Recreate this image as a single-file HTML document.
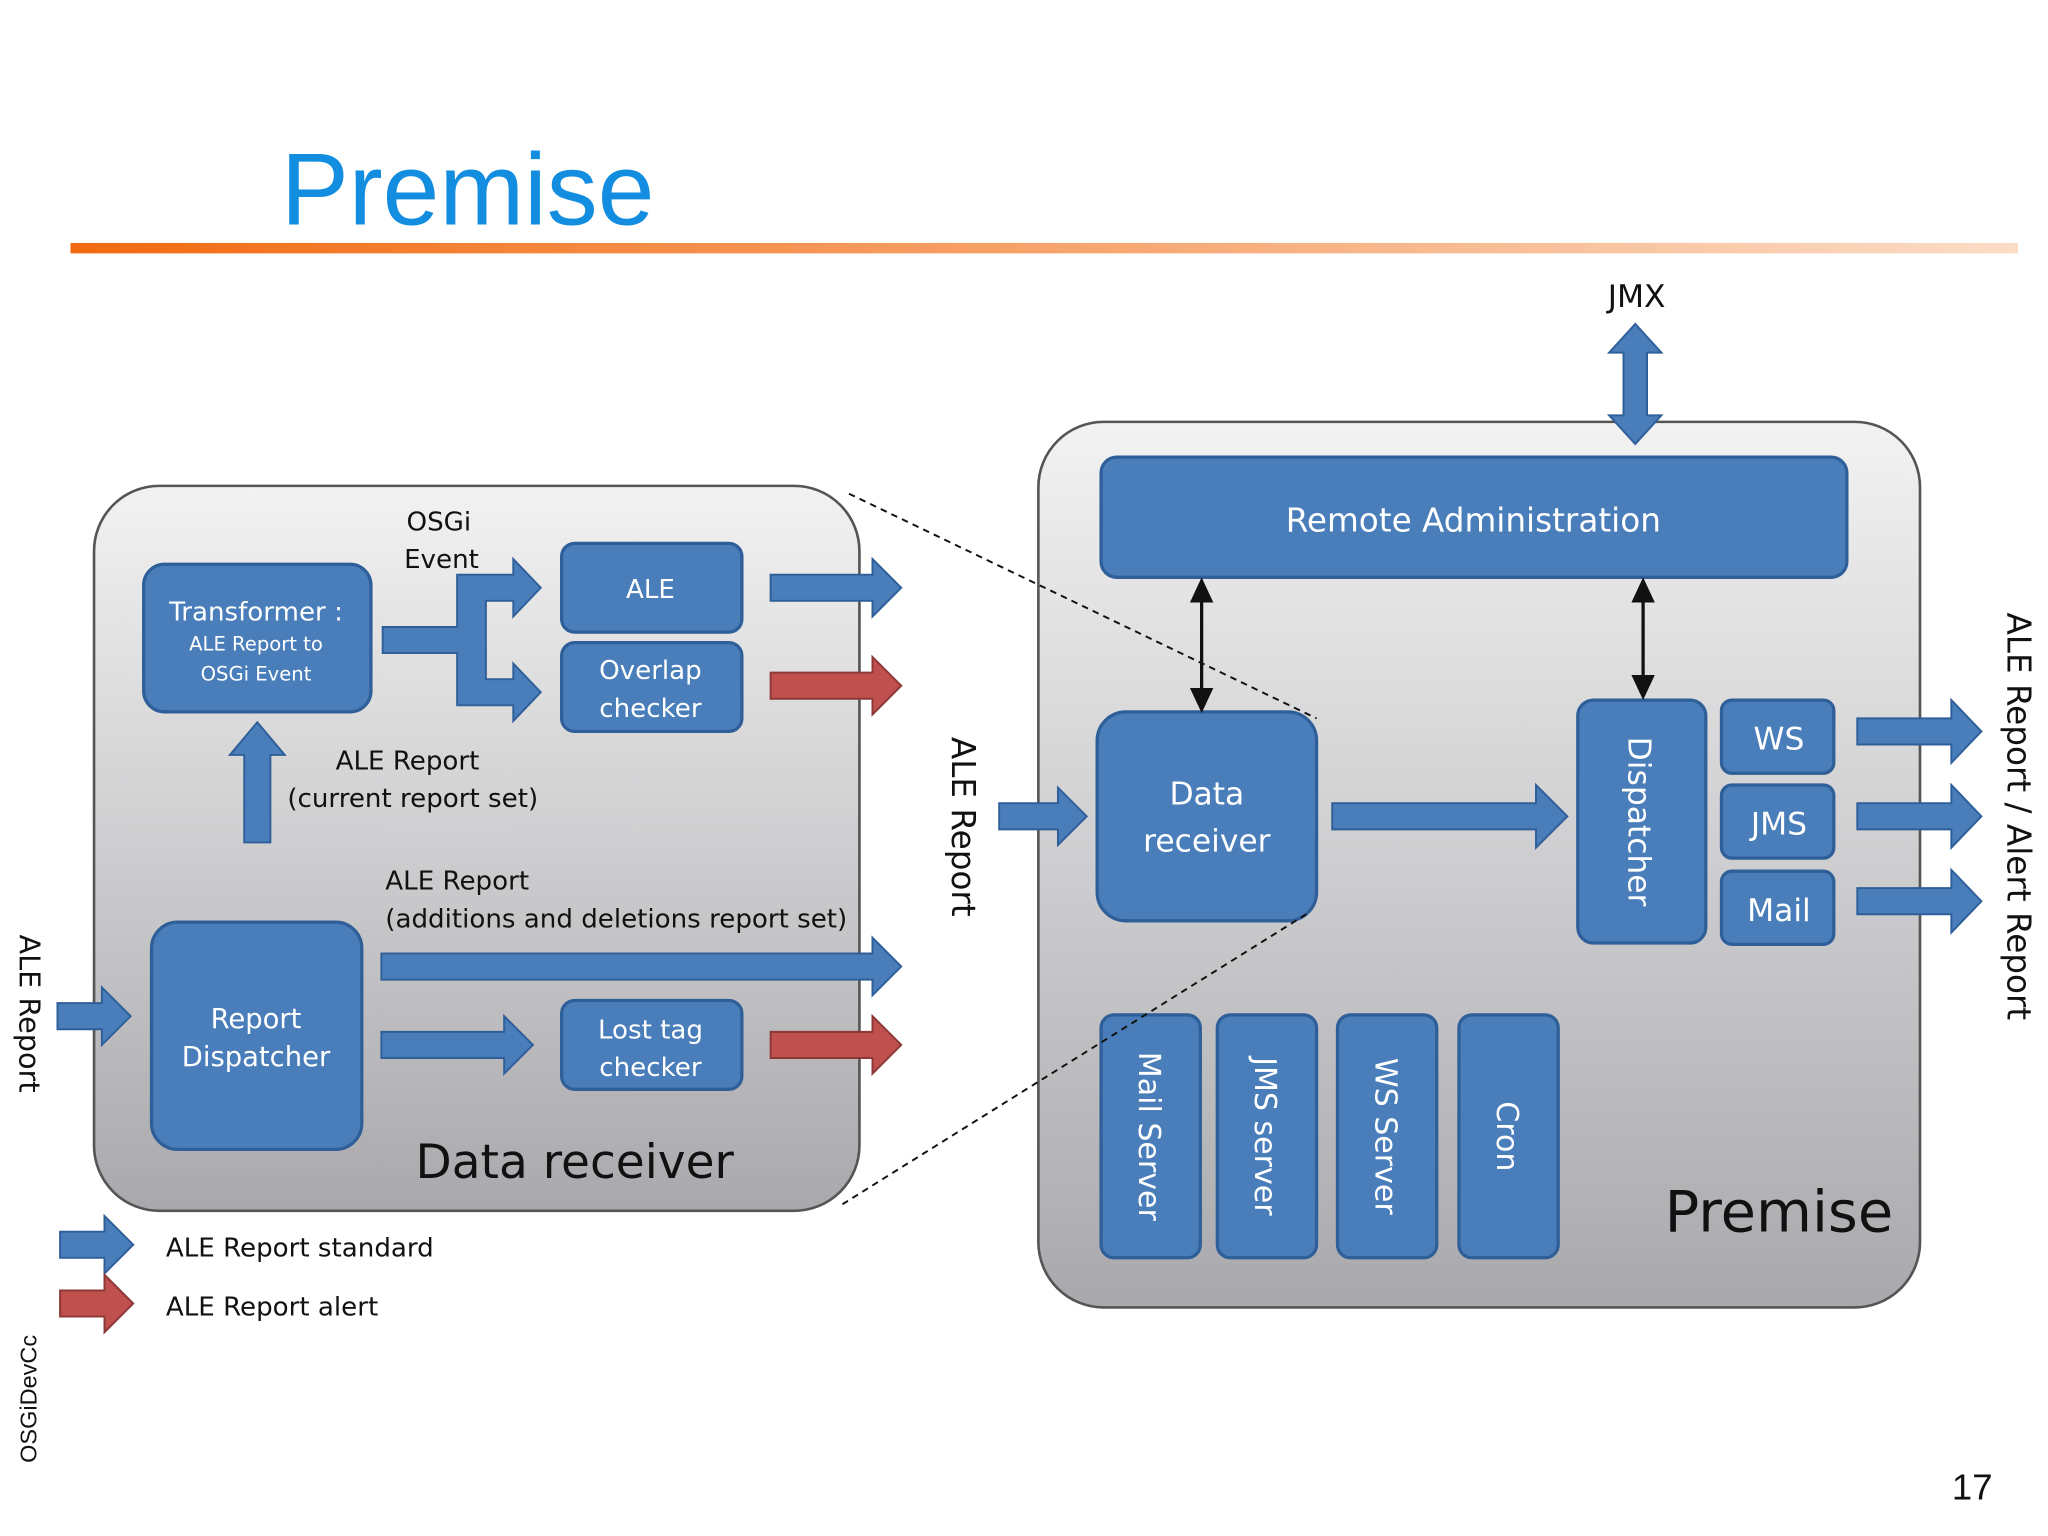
<!DOCTYPE html>
<html><head><meta charset="utf-8"><style>
html,body{margin:0;padding:0;background:#fff;}
svg{display:block;}
text{font-family:"DejaVu Sans","Liberation Sans",sans-serif;}
</style></head><body>
<svg width="2048" height="1536" viewBox="0 0 1568 1176" xmlns="http://www.w3.org/2000/svg">
<defs>
<linearGradient id="ol" x1="0" x2="1" y1="0" y2="0"><stop offset="0" stop-color="#f26a10"/><stop offset="1" stop-color="#fbdcc6"/></linearGradient>
<linearGradient id="gb" x1="0" x2="0" y1="0" y2="1"><stop offset="0" stop-color="#f2f2f2"/><stop offset="1" stop-color="#a9a9ad"/></linearGradient>
</defs>
<rect width="1568" height="1176" fill="#fff"/>
<text x="215" y="172" font-size="78" fill="#128de0" style="font-family:'Liberation Sans',sans-serif">Premise</text>
<rect x="54" y="186" width="1491" height="8" fill="url(#ol)"/>

<rect x="795" y="323" width="675" height="678" rx="50" fill="url(#gb)" stroke="#555" stroke-width="2"/>
<rect x="72" y="372" width="586" height="555" rx="50" fill="url(#gb)" stroke="#555" stroke-width="2"/>

<g fill="#4a7ebb" stroke="#2f5f98" stroke-width="2.5">
<rect x="843" y="350" width="571" height="92" rx="12"/>
<rect x="840" y="545" width="168" height="160" rx="22"/>
<rect x="1208" y="536" width="98" height="186" rx="12"/>
<rect x="1318" y="536" width="86" height="56" rx="8"/>
<rect x="1318" y="601" width="86" height="56" rx="8"/>
<rect x="1318" y="667" width="86" height="56" rx="8"/>
<rect x="843" y="777" width="76" height="186" rx="10"/>
<rect x="932" y="777" width="76" height="186" rx="10"/>
<rect x="1024" y="777" width="76" height="186" rx="10"/>
<rect x="1117" y="777" width="76" height="186" rx="10"/>
<rect x="110" y="432" width="174" height="113" rx="16"/>
<rect x="430" y="416" width="138" height="68" rx="10"/>
<rect x="430" y="492" width="138" height="68" rx="10"/>
<rect x="430" y="766" width="138" height="68" rx="10"/>
<rect x="116" y="706" width="161" height="174" rx="20"/>
</g>

<g fill="#4a7ebb" stroke="#2f5f98" stroke-width="1.5">
<polygon points="1252,248 1272,270 1261,270 1261,318 1272,318 1252,340 1232,318 1243,318 1243,270 1232,270"/>
<polygon points="765,615 810,615 810,603 832,625 810,647 810,635 765,635"/>
<polygon points="1020,615 1176,615 1176,601 1200,625 1176,649 1176,635 1020,635"/>
<polygon points="1422,550 1494,550 1494,536 1517,560 1494,584 1494,570 1422,570"/>
<polygon points="1422,615 1494,615 1494,601 1517,625 1494,649 1494,635 1422,635"/>
<polygon points="1422,680 1494,680 1494,666 1517,690 1494,714 1494,700 1422,700"/>
<polygon points="590,440 668,440 668,428 690,450 668,472 668,460 590,460"/>
<polygon points="292,730 668,730 668,718 690,740 668,762 668,750 292,750"/>
<polygon points="292,790 386,790 386,778 408,800 386,822 386,810 292,810"/>
<polygon points="44,768 78,768 78,756 100,778 78,800 78,788 44,788"/>
<polygon points="46,943 80,943 80,931 102,953 80,975 80,963 46,963"/>
<polygon points="187,645 187,578 176,578 197,553 218,578 207,578 207,645"/>
<path d="M293,480 L350,480 L350,440 L393,440 L393,428 L414,450 L393,472 L393,460 L372,460 L372,520 L393,520 L393,508 L414,530 L393,552 L393,540 L350,540 L350,500 L293,500 Z"/>
</g>
<g fill="#c0504d" stroke="#8c3836" stroke-width="1.5">
<polygon points="590,515 668,515 668,503 690,525 668,547 668,535 590,535"/>
<polygon points="590,790 668,790 668,778 690,800 668,822 668,810 590,810"/>
<polygon points="46,988 80,988 80,976 102,998 80,1020 80,1008 46,1008"/>
</g>

<g stroke="#111" stroke-width="2.5" fill="#111">
<line x1="920" y1="455" x2="920" y2="533"/>
<polygon points="920,445 913,460 927,460"/><polygon points="920,543 913,528 927,528"/>
<line x1="1258" y1="455" x2="1258" y2="523"/>
<polygon points="1258,445 1251,460 1265,460"/><polygon points="1258,533 1251,518 1265,518"/>
</g>
<g stroke="#111" stroke-width="1.5" stroke-dasharray="5,4" fill="none">
<line x1="650" y1="378" x2="1008" y2="550"/>
<line x1="645" y1="922" x2="1000" y2="700"/>
</g>

<g fill="#fff" text-anchor="middle">
<text x="1128" y="407" font-size="25">Remote Administration</text>
<text x="924" y="616" font-size="24">Data</text>
<text x="924" y="652" font-size="24">receiver</text>
<text x="1362" y="574" font-size="24">WS</text>
<text x="1362" y="639" font-size="24">JMS</text>
<text x="1362" y="705" font-size="24">Mail</text>
<text transform="translate(1247,629) rotate(90)" font-size="24">Dispatcher</text>
<text transform="translate(872,870) rotate(90)" font-size="23">Mail Server</text>
<text transform="translate(961,870) rotate(90)" font-size="23">JMS server</text>
<text transform="translate(1053,870) rotate(90)" font-size="23">WS Server</text>
<text transform="translate(1146,870) rotate(90)" font-size="23">Cron</text>
<text x="196" y="475" font-size="20">Transformer :</text>
<text x="196" y="498" font-size="15">ALE Report to</text>
<text x="196" y="521" font-size="15">OSGi Event</text>
<text x="498" y="458" font-size="20">ALE</text>
<text x="498" y="520" font-size="20">Overlap</text>
<text x="498" y="549" font-size="20">checker</text>
<text x="498" y="795" font-size="20">Lost tag</text>
<text x="498" y="824" font-size="20">checker</text>
<text x="196" y="787" font-size="21">Report</text>
<text x="196" y="816" font-size="21">Dispatcher</text>
</g>
<g fill="#111">
<text x="1253" y="235" font-size="24" text-anchor="middle">JMX</text>
<text x="1362" y="943" font-size="44" text-anchor="middle">Premise</text>
<text x="440" y="902" font-size="36" text-anchor="middle">Data receiver</text>
<text transform="translate(1537,625) rotate(90)" font-size="25" text-anchor="middle">ALE Report / Alert Report</text>
<text transform="translate(729,633) rotate(90)" font-size="25" text-anchor="middle">ALE Report</text>
<text transform="translate(15,776) rotate(90)" font-size="22" text-anchor="middle">ALE Report</text>
<text x="336" y="406" font-size="20" text-anchor="middle">OSGi</text>
<text x="338" y="435" font-size="20" text-anchor="middle">Event</text>
<text x="312" y="589" font-size="20" text-anchor="middle">ALE Report</text>
<text x="316" y="618" font-size="20" text-anchor="middle">(current report set)</text>
<text x="295" y="681" font-size="20">ALE Report</text>
<text x="295" y="710" font-size="20">(additions and deletions report set)</text>
<text x="127" y="962" font-size="20">ALE Report standard</text>
<text x="127" y="1007" font-size="20">ALE Report alert</text>
<text transform="translate(28,1120) rotate(-90)" font-size="18" style="font-family:'Liberation Sans',sans-serif">OSGiDevCc</text>
<text x="1510" y="1148" font-size="28" text-anchor="middle" style="font-family:'Liberation Sans',sans-serif">17</text>
</g>
</svg>
</body></html>
